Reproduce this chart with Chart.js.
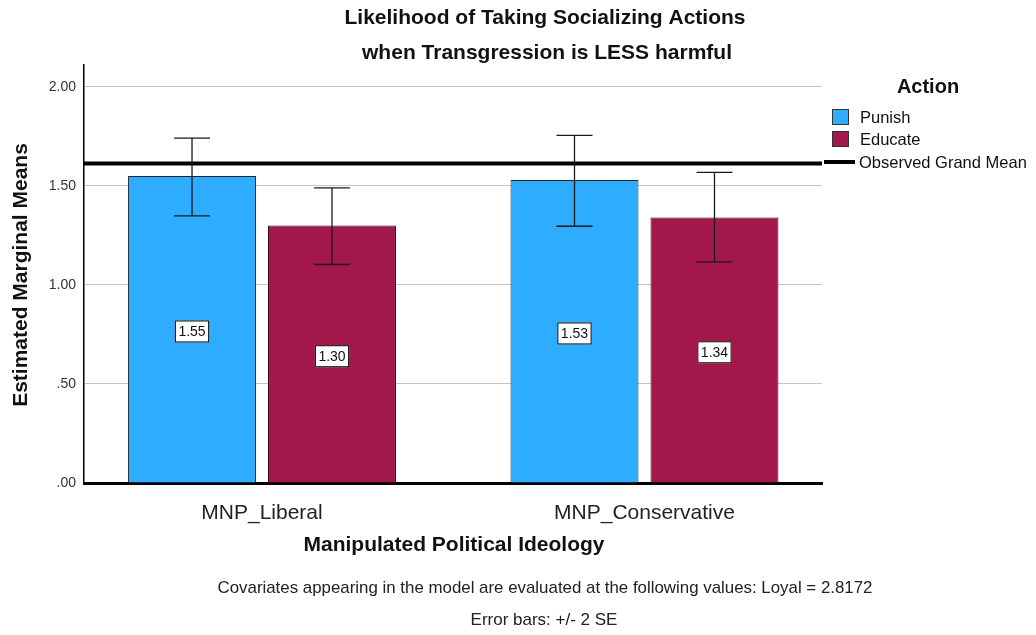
<!DOCTYPE html>
<html>
<head>
<meta charset="utf-8">
<script src="https://cdn.jsdelivr.net/npm/chart.js@4.4.1/dist/chart.umd.min.js"></script>
<style>
  html,body{margin:0;padding:0;background:#fff;}
  #wrap{width:1036px;height:635px;position:relative;}
</style>
</head>
<body>
<div id="wrap"><canvas id="c" width="1036" height="635"></canvas></div>
<script>
// datos (medias marginales estimadas, barras de error +/- 2 SE)
const categories = ['MNP_Liberal', 'MNP_Conservative'];
const seriesNames = ['Punish', 'Educate'];
const punishMeans = [1.55, 1.53];
const educateMeans = [1.30, 1.34];
const punishLow = [1.348, 1.296];
const punishHigh = [1.741, 1.755];
const educateLow = [1.103, 1.116];
const educateHigh = [1.490, 1.568];
const grandMean = 1.613;
const yTicks = [0, 0.5, 1.0, 1.5, 2.0];

const blue = '#2eacff', maroon = '#a3174a';
const sans = '"Liberation Sans", Arial, sans-serif';
const bold = 'bold 21px ' + sans;

const errLow = [punishLow, educateLow], errHigh = [punishHigh, educateHigh];

// barras de error, linea de media global y etiquetas de valor
const overlay = {
  id: 'overlay',
  afterDatasetsDraw(chart){
    const ctx = chart.ctx, ys = chart.scales.y, area = chart.chartArea;
    ctx.save();
    // media global observada
    const gy = ys.getPixelForValue(grandMean);
    ctx.strokeStyle = '#000'; ctx.lineWidth = 4;
    ctx.beginPath(); ctx.moveTo(area.left, gy); ctx.lineTo(area.right, gy); ctx.stroke();
    chart.data.datasets.forEach((ds, di) => {
      chart.getDatasetMeta(di).data.forEach((bar, i) => {
        const x = bar.x;
        const yl = ys.getPixelForValue(errLow[di][i]), yh = ys.getPixelForValue(errHigh[di][i]);
        ctx.strokeStyle = '#1a1a1a'; ctx.lineWidth = 1.3;
        ctx.beginPath();
        ctx.moveTo(x, yl); ctx.lineTo(x, yh);
        ctx.moveTo(x - 18, yl); ctx.lineTo(x + 18, yl);
        ctx.moveTo(x - 18, yh); ctx.lineTo(x + 18, yh);
        ctx.stroke();
        // etiqueta en el centro de la barra
        const v = ds.data[i].y;
        const cy = (ys.getPixelForValue(v) + ys.getPixelForValue(0)) / 2 + 2;
        ctx.font = '14px ' + sans;
        const t = v.toFixed(2), w = ctx.measureText(t).width + 7;
        ctx.fillStyle = '#fff'; ctx.fillRect(x - w/2, cy - 11, w, 22);
        ctx.strokeStyle = '#000'; ctx.lineWidth = 1; ctx.strokeRect(x - w/2 + 0.5, cy - 10.5, w - 1, 21);
        ctx.fillStyle = '#111'; ctx.textAlign = 'center'; ctx.textBaseline = 'middle';
        ctx.fillText(t, x, cy + 0.5);
      });
    });
    ctx.restore();
  },
  afterDraw(chart){
    const ctx = chart.ctx;
    ctx.save();
    ctx.fillStyle = '#111'; ctx.textAlign = 'center'; ctx.textBaseline = 'middle';
    ctx.font = bold;
    ctx.fillText('Likelihood of Taking Socializing Actions', 545, 18);
    ctx.fillText('when Transgression is LESS harmful', 547, 53);
    ctx.fillText('Manipulated Political Ideology', 454, 545);
    ctx.save(); ctx.translate(21, 275); ctx.rotate(-Math.PI/2);
    ctx.fillText('Estimated Marginal Means', 0, 0); ctx.restore();
    ctx.fillStyle = '#222';
    ctx.font = '17px ' + sans;
    ctx.fillText('Covariates appearing in the model are evaluated at the following values: Loyal = 2.8172', 545, 588, 655);
    ctx.fillText('Error bars: +/- 2 SE', 544, 620, 148);
    // leyenda
    ctx.fillStyle = '#111';
    ctx.font = 'bold 20px ' + sans;
    ctx.fillText('Action', 928, 87);
    ctx.textAlign = 'left';
    ctx.font = '16.5px ' + sans;
    [blue, maroon].forEach((c, k) => {
      const y0 = 109 + k * 22;
      ctx.fillStyle = c; ctx.fillRect(832, y0, 17, 16);
      ctx.strokeStyle = '#333'; ctx.lineWidth = 1; ctx.strokeRect(832.5, y0 + 0.5, 16, 15);
      ctx.fillStyle = '#111'; ctx.fillText(seriesNames[k], 860, y0 + 9);
    });
    ctx.strokeStyle = '#000'; ctx.lineWidth = 4;
    ctx.beginPath(); ctx.moveTo(824, 162); ctx.lineTo(855, 162); ctx.stroke();
    ctx.fillText('Observed Grand Mean', 859, 163, 170);
    ctx.restore();
  }
};

new Chart(document.getElementById('c').getContext('2d'), {
  type: 'bar',
  data: {
    datasets: [
      {label: seriesNames[0], data: punishMeans.map((y, i) => ({x: i, y})), backgroundColor: blue, borderColor: '#1c2633', borderWidth: 1},
      {label: seriesNames[1], data: educateMeans.map((y, i) => ({x: i, y})), backgroundColor: maroon, borderColor: '#2e0c18', borderWidth: 1}
    ]
  },
  options: {
    responsive: false, animation: false,
    layout: {padding: {left: 0, top: 65, right: 214, bottom: 0}},
    categoryPercentage: 0.732, barPercentage: 0.914,
    plugins: {legend: {display: false}, title: {display: false}, tooltip: {enabled: false}},
    scales: {
      x: {
        type: 'linear', min: -0.4654, max: 1.4641, offset: false,
        afterFit: s => { s.height = 152; },
        afterBuildTicks: s => { s.ticks = categories.map((c, i) => ({value: i})); },
        grid: {display: false},
        border: {color: '#000', width: 3},
        ticks: {color: '#222', padding: 10, font: {size: 21, family: sans}, callback: v => categories[v]}
      },
      y: {
        min: 0, max: 2.11,
        afterFit: s => { s.width = 84; },
        afterBuildTicks: s => { s.ticks = yTicks.map(v => ({value: v})); },
        grid: {color: '#c4c4c4', lineWidth: 1, drawTicks: false},
        border: {color: '#000', width: 1.5},
        ticks: {color: '#333', padding: 8, font: {size: 14, family: sans},
                callback: v => v.toFixed(2).replace(/^0/, '')}
      }
    }
  },
  plugins: [overlay]
});
</script>
</body>
</html>
